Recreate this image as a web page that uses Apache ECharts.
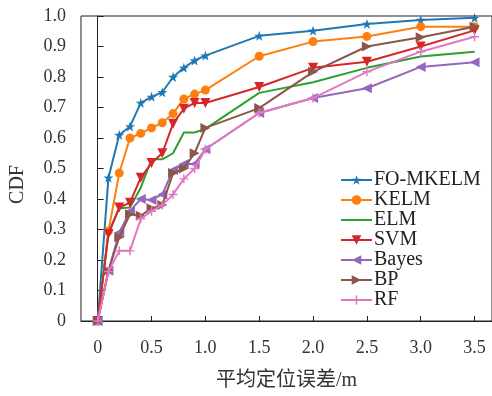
<!DOCTYPE html>
<html>
<head>
<meta charset="utf-8">
<script src="https://cdn.jsdelivr.net/npm/echarts@6/dist/echarts.min.js"></script>
<style>
html,body{margin:0;padding:0;background:#fff;}
#chart{width:492px;height:396px;}
</style>
</head>
<body>
<div id="chart"></div>
<script>
var xValues = [0, 0.1, 0.2, 0.3, 0.4, 0.5, 0.6, 0.7, 0.8, 0.9, 1.0, 1.5, 2.0, 2.5, 3.0, 3.5];
var foMkelm = [0, 0.47, 0.61, 0.638, 0.715, 0.735, 0.75, 0.80, 0.83, 0.854, 0.87, 0.935, 0.952, 0.974, 0.987, 0.994];
var kelm    = [0, 0.295, 0.485, 0.60, 0.615, 0.633, 0.65, 0.68, 0.728, 0.744, 0.757, 0.868, 0.916, 0.933, 0.965, 0.965];
var elm     = [0, 0.29, 0.37, 0.372, 0.437, 0.53, 0.53, 0.55, 0.618, 0.618, 0.63, 0.748, 0.783, 0.83, 0.867, 0.883];
var svm     = [0, 0.285, 0.372, 0.388, 0.47, 0.518, 0.55, 0.647, 0.696, 0.715, 0.715, 0.767, 0.83, 0.85, 0.90, 0.953];
var bayes   = [0, 0.165, 0.29, 0.36, 0.40, 0.397, 0.415, 0.495, 0.515, 0.515, 0.563, 0.682, 0.731, 0.763, 0.833, 0.848];
var bp      = [0, 0.165, 0.275, 0.35, 0.345, 0.37, 0.38, 0.485, 0.50, 0.55, 0.633, 0.698, 0.817, 0.90, 0.93, 0.965];
var rf      = [0, 0.162, 0.23, 0.23, 0.335, 0.36, 0.38, 0.415, 0.466, 0.50, 0.563, 0.682, 0.731, 0.817, 0.883, 0.932];
var seriesNames = ['FO-MKELM', 'KELM', 'ELM', 'SVM', 'Bayes', 'BP', 'RF'];
var xTicks = [0, 0.5, 1.0, 1.5, 2.0, 2.5, 3.0, 3.5];
var xTickLabels = ['0', '0.5', '1.0', '1.5', '2.0', '2.5', '3.0', '3.5'];
var yTickLabels = ['0', '0.1', '0.2', '0.3', '0.4', '0.5', '0.6', '0.7', '0.8', '0.9', '1.0'];
var xTitle = '平均定位误差/m';
var yTitle = 'CDF';

var FONT = '"Liberation Serif", "Times New Roman", "Noto Sans CJK SC", serif';
var colors = ['#1f77b4', '#ff7f0e', '#2ca02c', '#d62728', '#9467bd', '#8c564b', '#e377c2'];
var starPath = 'path://M50,0L61.8,34.5L97.6,34.5L68.8,55.9L79.4,90.5L50,69.1L20.6,90.5L31.2,55.9L2.4,34.5L38.2,34.5Z';
var plusPath = 'path://M42,0H58V42H100V58H58V100H42V58H0V42H42Z';
var symbols = [starPath, 'circle', 'none', 'triangle', 'triangle', 'triangle', plusPath];
var rotates = [0, 0, 0, 180, 90, -90, 0];
var sizes = [10, 9, 0, 10, 10, 10, 9];
var allData = [foMkelm, kelm, elm, svm, bayes, bp, rf];

function pairs(vals) {
  return xValues.map(function (x, i) { return [x, vals[i]]; });
}

var series = seriesNames.map(function (name, i) {
  return {
    name: name,
    type: 'line',
    data: pairs(allData[i]),
    symbol: symbols[i],
    symbolRotate: rotates[i],
    symbolSize: sizes[i],
    showSymbol: symbols[i] !== 'none',
    lineStyle: { color: colors[i], width: 2 },
    itemStyle: { color: colors[i] },
    emphasis: { disabled: true },
    animation: false,
    z: 2 + i
  };
});

var legendData = seriesNames.map(function (name, i) {
  if (symbols[i] === 'none') {
    return { name: name, itemStyle: { opacity: 0 } };
  }
  return { name: name };
});

var chart = echarts.init(document.getElementById('chart'), null, { renderer: 'canvas' });
chart.setOption({
  animation: false,
  textStyle: { fontFamily: FONT },
  grid: {
    left: 79, right: -2, top: 16, bottom: 71,
    show: true, borderColor: '#222', borderWidth: 1, backgroundColor: 'transparent'
  },
  legend: {
    orient: 'vertical',
    left: 335,
    top: 165,
    itemWidth: 31,
    itemHeight: 12,
    itemGap: 0,
    textStyle: { fontFamily: FONT, fontSize: 20, color: '#222', lineHeight: 20, padding: [0, 0, 0, -3] },
    data: legendData
  },
  xAxis: {
    type: 'value',
    min: -0.155,
    max: 3.662,
    name: xTitle,
    nameLocation: 'middle',
    nameGap: 50,
    nameTextStyle: { fontFamily: FONT, fontSize: 20, color: '#333' },
    axisLine: { show: true, lineStyle: { color: '#222', width: 1 } },
    axisTick: { show: true, inside: true, length: 5, customValues: xTicks, lineStyle: { color: '#222' } },
    axisLabel: {
      customValues: xTicks,
      margin: 18,
      fontFamily: FONT, fontSize: 18, color: '#333',
      formatter: function (v) {
        var idx = xTicks.indexOf(v);
        return idx >= 0 ? xTickLabels[idx] : '';
      }
    },
    splitLine: { show: false }
  },
  yAxis: {
    type: 'value',
    min: 0,
    max: 1,
    interval: 0.1,
    name: yTitle,
    nameLocation: 'middle',
    nameGap: 53,
    nameRotate: 90,
    nameTextStyle: { fontFamily: FONT, fontSize: 20, color: '#333', padding: [0, 32, 0, 0] },
    axisLine: { show: true, lineStyle: { color: '#222', width: 1 } },
    axisTick: { show: true, inside: true, length: 6, lineStyle: { color: '#222' } },
    axisLabel: {
      margin: 15,
      fontFamily: FONT, fontSize: 18, color: '#333',
      formatter: function (v) {
        return yTickLabels[Math.round(v * 10)];
      }
    },
    splitLine: { show: false }
  },
  series: series
});
</script>
</body>
</html>
